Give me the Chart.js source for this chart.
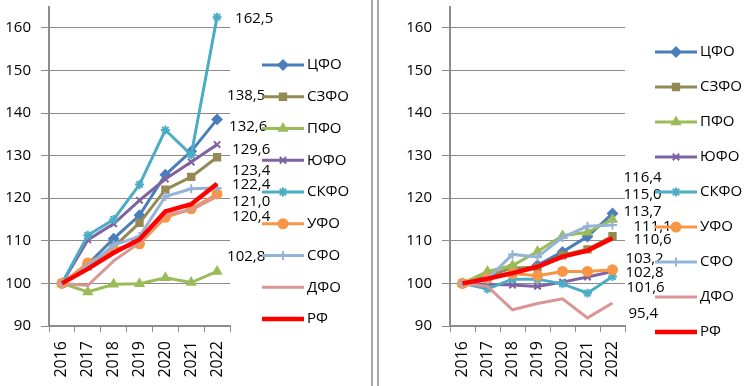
<!DOCTYPE html>
<html lang="ru">
<head>
<meta charset="UTF-8">
<title>Индексы по федеральным округам</title>
<script src="https://cdn.jsdelivr.net/npm/chart.js"></script>
<style>
  body{margin:0; width:750px; height:386px; position:relative; background:#fff; overflow:hidden;}
  #leftBox{position:absolute; left:0; top:0; width:372px; height:386px;}
  #rightBox{position:absolute; left:380px; top:0; width:370px; height:386px;}
  .sep{position:absolute; top:0; width:2px; height:386px; background:#a8a8a8;}
</style>
</head>
<body>
<div id="leftBox"><canvas id="chartLeft" width="372" height="386"></canvas></div>
<div class="sep" style="left:371px"></div>
<div class="sep" style="left:377px"></div>
<div id="rightBox"><canvas id="chartRight" width="370" height="386"></canvas></div>
<script>
// данные
const years = ['2016', '2017', '2018', '2019', '2020', '2021', '2022'];
const regions = ['ЦФО', 'СЗФО', 'ПФО', 'ЮФО', 'СКФО', 'УФО', 'СФО', 'ДФО', 'РФ'];
const yTicks = [90, 100, 110, 120, 130, 140, 150, 160];

// левый график
const leftCfo  = [100, 104.5, 110.5, 116.0, 125.5, 131.0, 138.5];
const leftSzfo = [100, 104.0, 108.5, 114.2, 122.0, 125.0, 129.6];
const leftPfo  = [100, 98.0, 99.8, 99.9, 101.3, 100.2, 102.8];
const leftUfo  = [100, 110.2, 114.0, 119.5, 124.5, 128.5, 132.6];
const leftSkfo = [100, 111.3, 115.0, 123.2, 136.0, 130.2, 162.5];
const leftUrfo = [100, 104.8, 108.0, 109.3, 115.5, 117.5, 121.0];
const leftSfo  = [100, 104.0, 109.0, 111.0, 120.4, 122.2, 122.4];
const leftDfo  = [100, 99.5, 105.3, 109.5, 116.2, 117.2, 120.4];
const leftRf   = [100, 103.4, 107.2, 110.3, 116.9, 118.6, 123.4];

// правый график
const rightCfo  = [100, 101.5, 102.5, 104.3, 107.4, 111.0, 116.4];
const rightSzfo = [100, 101.8, 103.6, 103.8, 106.6, 108.0, 111.1];
const rightPfo  = [100, 102.8, 104.2, 107.5, 111.2, 112.0, 115.0];
const rightUfo  = [100, 99.8, 99.6, 99.3, 100.3, 101.5, 102.8];
const rightSkfo = [100, 98.7, 101.0, 101.0, 99.9, 97.7, 101.6];
const rightUrfo = [100, 101.2, 102.3, 101.8, 102.8, 102.8, 103.2];
const rightSfo  = [100, 101.0, 106.8, 106.2, 110.8, 113.4, 113.7];
const rightDfo  = [100, 99.3, 93.8, 95.3, 96.4, 91.9, 95.4];
const rightRf   = [100, 101.1, 102.4, 103.9, 106.3, 107.7, 110.6];

// стиль серий
const colors = ['#4a7ebb', '#948a54', '#9bbb59', '#7e62a1', '#4bacc6', '#f79646', '#95b3d7', '#d99694', '#ff0000'];
const markers = ['rectRot', 'rect', 'triangle', 'crossRot', 'star', 'circle', 'cross', false, false];
const widths = [3, 3, 3, 3, 3, 3, 3, 3, 4.5];

// смещения подписей последних значений [dx, dy]
const leftLabelShift = [[10, -24], [15, -8], [10, -15], [12, -18], [18, 2], [15, 8], [15, -3], [15, 20], [15, -13]];
const rightLabelShift = [[11, -36], [21, -9], [11, -25], [13, 1], [14, 11], [13, -11], [11, -13], [16, 11], [21, 1]];

Chart.defaults.font.family = "'Open Sans', sans-serif";
Chart.defaults.font.size = 15;
Chart.defaults.color = '#000';

function fmt(v){ return v.toFixed(1).replace('.', ','); }

function buildChart(id, series, shifts, yAxisWidth, padRight, legendX, legendY0, legendStep){
  const datasets = series.map((d, i) => ({
    label: regions[i],
    data: d,
    borderColor: colors[i],
    backgroundColor: colors[i],
    borderWidth: widths[i],
    pointStyle: markers[i],
    pointRadius: markers[i] ? 4.5 : 0,
    pointBorderWidth: 2,
    tension: 0,
    order: 9 - i
  }));

  const extras = {
    id: 'extras',
    afterDatasetsDraw(chart){
      const ctx = chart.ctx;
      ctx.save();
      ctx.font = "15px 'Open Sans', sans-serif";
      ctx.fillStyle = '#000';
      ctx.textAlign = 'left';
      ctx.textBaseline = 'middle';
      chart.data.datasets.forEach((ds, i) => {
        const pts = chart.getDatasetMeta(i).data;
        const p = pts[pts.length - 1];
        ctx.fillText(fmt(ds.data[ds.data.length - 1]), p.x + shifts[i][0], p.y + shifts[i][1]);
      });
      ctx.restore();
    },
    afterDraw(chart){
      const ctx = chart.ctx;
      ctx.save();
      chart.data.datasets.forEach((ds, i) => {
        const y = legendY0 + i * legendStep;
        ctx.strokeStyle = ds.borderColor;
        ctx.lineWidth = ds.borderWidth;
        ctx.beginPath();
        ctx.moveTo(legendX, y);
        ctx.lineTo(legendX + 42, y);
        ctx.stroke();
        if (ds.pointStyle) {
          ctx.fillStyle = ds.borderColor;
          ctx.lineWidth = 2;
          Chart.helpers.drawPoint(ctx, {pointStyle: ds.pointStyle, radius: 4.5, borderWidth: 2, rotation: 0}, legendX + 21, y);
        }
        ctx.fillStyle = '#000';
        ctx.font = "15px 'Open Sans', sans-serif";
        ctx.textAlign = 'left';
        ctx.textBaseline = 'middle';
        ctx.fillText(ds.label, legendX + 45, y);
      });
      ctx.restore();
    }
  };

  return new Chart(document.getElementById(id), {
    type: 'line',
    data: { labels: years, datasets: datasets },
    plugins: [extras],
    options: {
      responsive: false,
      animation: false,
      layout: { padding: { top: 3, right: padRight, left: 0, bottom: 0 } },
      plugins: { legend: { display: false }, tooltip: { enabled: false } },
      scales: {
        x: {
          offset: true,
          grid: { offset: true, drawOnChartArea: false, drawTicks: true, tickLength: 6, color: '#8c8c8c' },
          border: { color: '#8c8c8c', width: 2 },
          ticks: { autoSkip: false, maxRotation: 90, minRotation: 90, padding: 9, font: { size: 16 } },
          afterFit(s){ s.height = 60; s.paddingLeft = 0; s.paddingRight = 0; }
        },
        y: {
          min: 90,
          max: 165,
          ticks: { stepSize: 10, padding: 10 },
          grid: { color: '#8c8c8c', lineWidth: 1, tickLength: 8 },
          border: { color: '#8c8c8c', width: 2 },
          afterBuildTicks(s){ s.ticks = yTicks.map(v => ({ value: v })); },
          afterFit(s){ s.width = yAxisWidth; s.paddingTop = 0; s.paddingBottom = 0; }
        }
      }
    }
  });
}

buildChart('chartLeft',
  [leftCfo, leftSzfo, leftPfo, leftUfo, leftSkfo, leftUrfo, leftSfo, leftDfo, leftRf],
  leftLabelShift, 49, 142, 262, 65, 31.75);

buildChart('chartRight',
  [rightCfo, rightSzfo, rightPfo, rightUfo, rightSkfo, rightUrfo, rightSfo, rightDfo, rightRf],
  rightLabelShift, 70, 125, 275, 52, 35);
</script>
</body>
</html>
